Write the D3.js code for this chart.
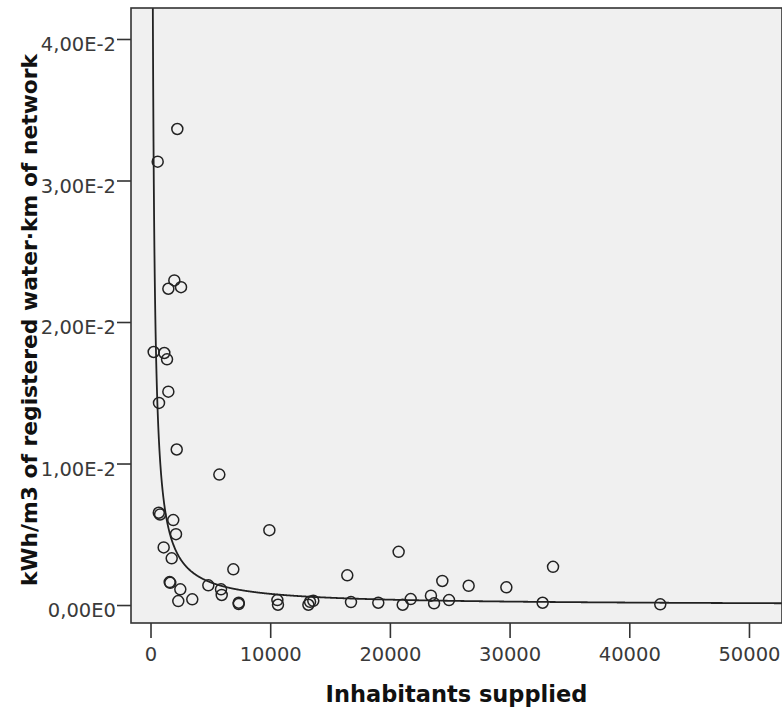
<!DOCTYPE html>
<html>
<head>
<meta charset="utf-8">
<title>kWh/m3 vs inhabitants</title>
<script src="https://d3js.org/d3.v7.min.js"></script>
<style>
  body { margin: 0; background: #fff; }
  svg text { font-family: "DejaVu Sans", sans-serif; }
</style>
</head>
<body>
<div id="chart"></div>
<script>
// values
var inhabitants = [2240, 600, 1990, 1490, 2550, 265, 1155, 1380, 1490, 710,
  2190, 5750, 690, 800, 1900, 2130, 1100, 1770, 6920, 1650,
  1600, 2490, 2320, 3490, 4830, 5890, 5950, 7370, 7370, 9930,
  10600, 10650, 13330, 13190, 13600, 16440, 16750, 19030, 20730, 21070,
  21740, 23430, 23690, 24380, 24940, 26580, 29730, 32760, 33630, 42590];
var kwhPerM3Km = [0.03364, 0.03133, 0.02294, 0.02235, 0.02246, 0.01788, 0.01781, 0.01736, 0.01508, 0.01428,
  0.01099, 0.00922, 0.00652, 0.00640, 0.00600, 0.00501, 0.00407, 0.00330, 0.00252, 0.00157,
  0.00162, 0.00111, 0.00028, 0.00040, 0.00139, 0.00111, 0.00071, 0.00016, 0.00007, 0.00529,
  0.00035, 0.00002, 0.00023, 0.00002, 0.00030, 0.00210, 0.00021, 0.00016, 0.00376, 0.00002,
  0.00042, 0.00066, 0.00012, 0.00170, 0.00035, 0.00136, 0.00125, 0.00016, 0.00270, 0.00005];
var xTicks = [0, 10000, 20000, 30000, 40000, 50000];
var yTicks = [0, 0.01, 0.02, 0.03, 0.04];
// inverse fit  y = b0 + b1 / x
var fitB0 = -0.00003, fitB1 = 8.2;

var W = 782, H = 710;
var plotL = 131, plotR = 782, plotT = 8, plotB = 623;

var svg = d3.select("#chart").append("svg")
  .attr("width", W).attr("height", H);

var x = d3.scaleLinear().domain([-1630, 52760]).range([plotL, plotR]);
var y = d3.scaleLinear().domain([-0.00127, 0.04219]).range([plotB, plotT]);

svg.append("defs").append("clipPath").attr("id", "plot")
  .append("rect").attr("x", plotL).attr("y", plotT)
  .attr("width", plotR - plotL).attr("height", plotB - plotT);

svg.append("rect")
  .attr("x", plotL).attr("y", plotT)
  .attr("width", plotR - plotL).attr("height", plotB - plotT)
  .attr("fill", "#f0f0f0");

// axes
function sci(v) {
  return d3.format(".2e")(v).replace(".", ",").replace("e", "E").replace("+", "");
}
var yAxis = svg.append("g")
  .attr("transform", "translate(" + plotL + ",0)")
  .call(d3.axisLeft(y).tickValues(yTicks).tickFormat(sci).tickSize(14).tickPadding(1));
var xAxis = svg.append("g")
  .attr("transform", "translate(0," + plotB + ")")
  .call(d3.axisBottom(x).tickValues(xTicks).tickFormat(d3.format("d")).tickSize(15));

[xAxis, yAxis].forEach(function(g) {
  g.select(".domain").remove();
  g.selectAll(".tick line").attr("stroke", "#333").attr("stroke-width", 1.6);
  g.selectAll(".tick text").attr("fill", "#3a3a3a").style("font-size", "19.5px");
});
yAxis.selectAll(".tick text").attr("dy", 0).attr("y", 11.5);
xAxis.selectAll(".tick text").attr("dy", 0).attr("y", 38);

// fit curve
var curveX = d3.range(150, 53000, 25);
var plot = svg.append("g").attr("clip-path", "url(#plot)");
plot.append("path")
  .datum(curveX)
  .attr("fill", "none")
  .attr("stroke", "#222")
  .attr("stroke-width", 1.8)
  .attr("d", d3.line()
    .x(function(d) { return x(d); })
    .y(function(d) { return y(fitB0 + fitB1 / d); }));

// points
plot.selectAll("circle")
  .data(inhabitants)
  .enter().append("circle")
  .attr("cx", function(d) { return x(d); })
  .attr("cy", function(d, i) { return y(kwhPerM3Km[i]); })
  .attr("r", 5.5)
  .attr("fill", "none")
  .attr("stroke", "#222")
  .attr("stroke-width", 1.5);

// frame
svg.append("rect")
  .attr("x", plotL).attr("y", plotT)
  .attr("width", plotR - plotL).attr("height", plotB - plotT)
  .attr("fill", "none").attr("stroke", "#333").attr("stroke-width", 1.6);

// titles
svg.append("text")
  .attr("x", (plotL + plotR) / 2).attr("y", 702)
  .attr("text-anchor", "middle")
  .style("font-size", "22.5px").style("font-weight", "bold")
  .attr("fill", "#111")
  .text("Inhabitants supplied");
svg.append("text")
  .attr("transform", "translate(37,320) rotate(-90)")
  .attr("text-anchor", "middle")
  .style("font-size", "21.8px").style("font-weight", "bold")
  .attr("fill", "#111")
  .text("kWh/m3 of registered water\u00b7km of network");
</script>
</body>
</html>
